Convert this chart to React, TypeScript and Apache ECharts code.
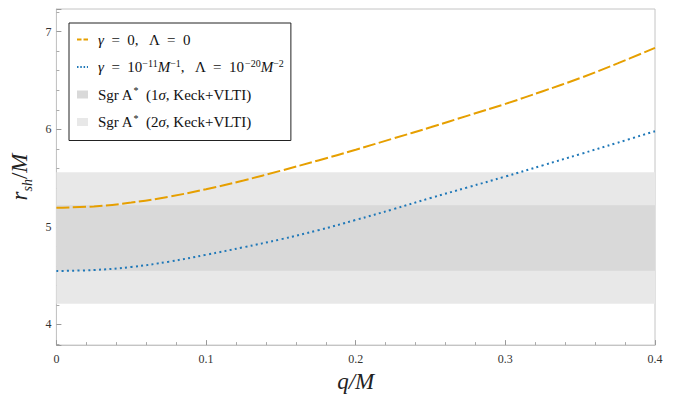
import React, { useEffect, useRef } from "react";
import * as echarts from "echarts";

const qValues = [0, 0.025, 0.05, 0.075, 0.1, 0.125, 0.15, 0.175, 0.2, 0.225, 0.25, 0.275, 0.3, 0.325, 0.35, 0.375, 0.4];
const rshSchw = [5.196, 5.209, 5.248, 5.308, 5.385, 5.475, 5.575, 5.68, 5.79, 5.905, 6.02, 6.14, 6.26, 6.39, 6.525, 6.675, 6.834];
const rshModified = [4.547, 4.557, 4.588, 4.642, 4.713, 4.79, 4.872, 4.965, 5.07, 5.18, 5.295, 5.405, 5.515, 5.63, 5.745, 5.862, 5.98];
const band1Sigma = [4.55, 5.22];
const band2Sigma = [4.21, 5.56];
const yTickLabels = ["4", "5", "6", "7"];

const FONT = "Liberation Serif";

const legendLabels: Record<string, string> = {
  g0: "{i|γ}{n|  =  0,   Λ  =  0}",
  g1: "{i|γ}{n|  =  10}{sup|−11}{i|M}{sup|−1}{n|,   Λ  =  10}{sup|−20}{i|M}{sup|−2}",
  s1: "{n|Sgr A}{star|*}{n|  (1}{i|σ}{n|, Keck+VLTI)}",
  s2: "{n|Sgr A}{star|*}{n|  (2}{i|σ}{n|, Keck+VLTI)}",
};

export default function App() {
  const ref = useRef<HTMLDivElement>(null);
  useEffect(() => {
    if (!ref.current) return;
    const chart = echarts.init(ref.current, undefined, { renderer: "svg" });
    const orange = "#e69f00";
    const blue = "#1f78b8";
    const axisColor = "#c4c4c4";
    const labelColor = "#333";
    const rich = {
      n: { fontFamily: FONT, fontSize: 15, lineHeight: 18, color: "#111" },
      i: { fontFamily: FONT, fontSize: 15, lineHeight: 18, color: "#111", fontStyle: "italic" },
      sup: { fontFamily: FONT, fontSize: 10, lineHeight: 10, color: "#111", verticalAlign: "top" },
      star: { fontFamily: FONT, fontSize: 10, lineHeight: 14, color: "#111", verticalAlign: "top" },
    };
    const hidden = { opacity: 0, color: "rgba(0,0,0,0)", borderColor: "rgba(0,0,0,0)", borderWidth: 0 };
    chart.setOption({
      animation: false,
      grid: { left: 53, right: 21, top: 9, bottom: 49, show: true, borderColor: axisColor, borderWidth: 1 },
      legend: {
        orient: "vertical",
        left: 69,
        top: 23,
        padding: [9, 7, 11, 7],
        itemGap: 11,
        itemWidth: 11,
        itemHeight: 8,
        borderColor: "#222",
        borderWidth: 1,
        backgroundColor: "#fff",
        data: [
          { name: "g0", itemStyle: hidden, lineStyle: { type: [4.5, 2], width: 2 } },
          { name: "g1", itemStyle: hidden, lineStyle: { type: [1.5, 1.8], width: 2 } },
          { name: "s1", icon: "rect" },
          { name: "s2", icon: "rect" },
        ],
        formatter: (name: string) => legendLabels[name],
        textStyle: { fontFamily: FONT, fontSize: 15, padding: [0, 0, 0, 5], rich },
      },
      xAxis: {
        type: "value",
        min: 0,
        max: 0.4,
        interval: 0.1,
        name: "q/M",
        nameLocation: "middle",
        nameGap: 20,
        nameTextStyle: { fontFamily: FONT, fontSize: 23, fontStyle: "italic", color: "#222" },
        axisLine: { show: true, lineStyle: { color: axisColor } },
        axisTick: { show: true, inside: true, length: 5, lineStyle: { color: "#999" } },
        minorTick: { show: true, splitNumber: 5, length: 3, lineStyle: { color: "#aaa" } },
        axisLabel: { fontFamily: FONT, fontSize: 12, color: labelColor, margin: 8 },
        splitLine: { show: false },
      },
      yAxis: {
        type: "value",
        min: 3.787,
        max: 7.233,
        splitNumber: 3,
        name: "{i|r}{sub|sh}{n|/}{i|M}",
        nameLocation: "middle",
        nameGap: 20,
        nameTextStyle: {
          rich: {
            i: { fontFamily: FONT, fontSize: 23, fontStyle: "italic", color: "#222", lineHeight: 30 },
            n: { fontFamily: FONT, fontSize: 23, color: "#222", lineHeight: 30 },
            sub: { fontFamily: FONT, fontSize: 14, fontStyle: "italic", color: "#222", lineHeight: 14, verticalAlign: "bottom" },
          },
        },
        axisLine: { show: true, lineStyle: { color: axisColor } },
        axisTick: { show: true, inside: true, length: 5, lineStyle: { color: "#999" } },
        minorTick: { show: true, splitNumber: 5, length: 3, lineStyle: { color: "#aaa" } },
        axisLabel: {
          fontFamily: FONT,
          fontSize: 12,
          color: labelColor,
          margin: 5,
          showMinLabel: false,
          showMaxLabel: false,
          formatter: (v: number) => {
            const s = String(Math.round(v));
            return Math.abs(v - Math.round(v)) < 1e-6 && yTickLabels.includes(s) ? s : "";
          },
        },
        splitLine: { show: false },
      },
      series: [
        {
          name: "s2",
          type: "line",
          data: [],
          z: 1,
          itemStyle: { color: "#e8e8e8" },
          markArea: {
            silent: true,
            itemStyle: { color: "#e8e8e8" },
            data: [[{ yAxis: band2Sigma[0] }, { yAxis: band2Sigma[1] }]],
          },
        },
        {
          name: "s1",
          type: "line",
          data: [],
          z: 1,
          itemStyle: { color: "#d9d9d9" },
          markArea: {
            silent: true,
            itemStyle: { color: "#d9d9d9" },
            data: [[{ yAxis: band1Sigma[0] }, { yAxis: band1Sigma[1] }]],
          },
        },
        {
          name: "g0",
          type: "line",
          z: 3,
          smooth: 0.4,
          symbol: "none",
          data: qValues.map((q, i) => [q, rshSchw[i]]),
          itemStyle: { color: orange },
          lineStyle: { color: orange, width: 2, type: [13, 3.5] },
        },
        {
          name: "g1",
          type: "line",
          z: 3,
          smooth: 0.4,
          symbol: "none",
          data: qValues.map((q, i) => [q, rshModified[i]]),
          itemStyle: { color: blue },
          lineStyle: { color: blue, width: 2, type: [2, 3.3] },
        },
      ],
    });
    return () => chart.dispose();
  }, []);
  return (
    <div
      ref={ref}
      style={{ position: "absolute", left: 0, top: 0, width: 676, height: 398, background: "#fff" }}
    />
  );
}
